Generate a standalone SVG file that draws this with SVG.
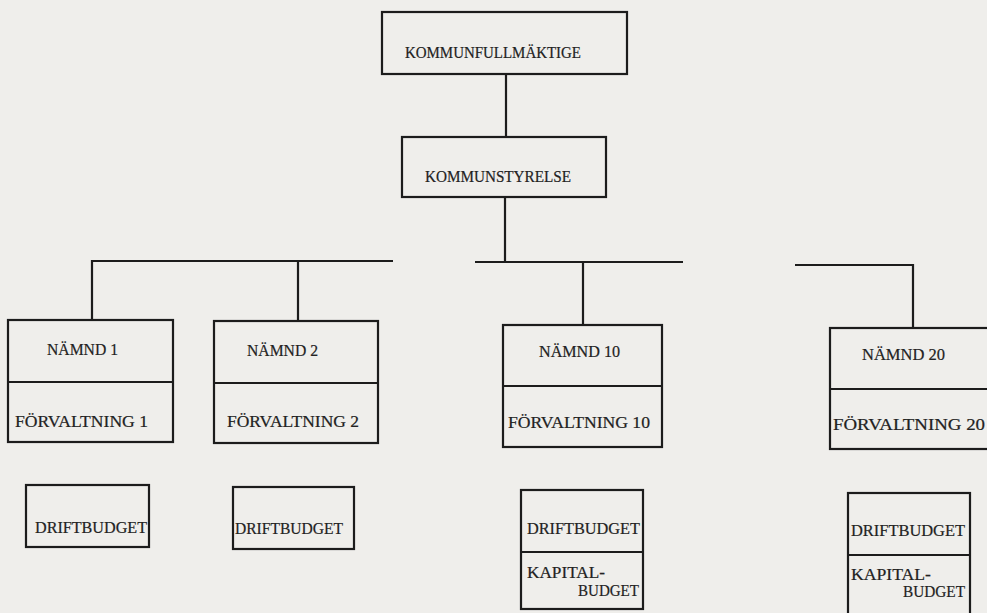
<svg xmlns="http://www.w3.org/2000/svg" width="987" height="613" viewBox="0 0 987 613">
<style>
.b{fill:none;stroke:#1c1c1c;stroke-width:2.2}
.l{fill:none;stroke:#1c1c1c;stroke-width:2.2}
text{font-family:"Liberation Serif","Times New Roman",serif;font-size:16px;fill:#222;stroke:#222;stroke-width:0.2}
</style>
<rect width="987" height="613" fill="#efeeeb"/>
<g id="connectors">
<path class="l" d="M506 74V138"/>
<path class="l" d="M505 197V262"/>
<path class="l" d="M92 320V261H393"/>
<path class="l" d="M298 261V321"/>
<path class="l" d="M475 262H683"/>
<path class="l" d="M583 262V325"/>
<path class="l" d="M795 265H913V328"/>
</g>
<g id="kommunfullmaktige">
<rect class="b" x="382" y="12" width="245" height="62"/>
<text x="405" y="58" textLength="176" lengthAdjust="spacingAndGlyphs">KOMMUNFULLMÄKTIGE</text>
</g>
<g id="kommunstyrelse">
<rect class="b" x="402" y="137" width="204" height="60"/>
<text x="425" y="182" textLength="146" lengthAdjust="spacingAndGlyphs">KOMMUNSTYRELSE</text>
</g>
<g id="namnd1">
<rect class="b" x="8" y="320" width="165" height="122"/>
<path class="l" d="M8 382H173"/>
<text x="47" y="355" textLength="71" lengthAdjust="spacingAndGlyphs">NÄMND 1</text>
<text x="15" y="427" textLength="133" lengthAdjust="spacingAndGlyphs">FÖRVALTNING 1</text>
</g>
<g id="namnd2">
<rect class="b" x="214" y="321" width="164" height="122"/>
<path class="l" d="M214 383H378"/>
<text x="247" y="356" textLength="71" lengthAdjust="spacingAndGlyphs">NÄMND 2</text>
<text x="227" y="427" textLength="132" lengthAdjust="spacingAndGlyphs">FÖRVALTNING 2</text>
</g>
<g id="namnd10">
<rect class="b" x="503" y="325" width="159" height="122"/>
<path class="l" d="M503 386H662"/>
<text x="539" y="357" textLength="81" lengthAdjust="spacingAndGlyphs">NÄMND 10</text>
<text x="508" y="428" textLength="142" lengthAdjust="spacingAndGlyphs">FÖRVALTNING 10</text>
</g>
<g id="namnd20">
<rect class="b" x="830" y="328" width="162" height="121"/>
<path class="l" d="M830 389H992"/>
<text x="862" y="360" textLength="83" lengthAdjust="spacingAndGlyphs">NÄMND 20</text>
<text x="833" y="430" textLength="152" lengthAdjust="spacingAndGlyphs">FÖRVALTNING 20</text>
</g>
<g id="driftbudget1">
<rect class="b" x="26" y="485" width="123" height="62"/>
<text x="35" y="533" textLength="112" lengthAdjust="spacingAndGlyphs">DRIFTBUDGET</text>
</g>
<g id="driftbudget2">
<rect class="b" x="233" y="487" width="121" height="62"/>
<text x="235" y="534" textLength="108" lengthAdjust="spacingAndGlyphs">DRIFTBUDGET</text>
</g>
<g id="budget10">
<rect class="b" x="521" y="490" width="122" height="119"/>
<path class="l" d="M521 552H643"/>
<text x="527" y="534" textLength="113" lengthAdjust="spacingAndGlyphs">DRIFTBUDGET</text>
<text x="527" y="578" textLength="78" lengthAdjust="spacingAndGlyphs">KAPITAL-</text>
<text x="578" y="596" textLength="61" lengthAdjust="spacingAndGlyphs">BUDGET</text>
</g>
<g id="budget20">
<rect class="b" x="848" y="493" width="122" height="125"/>
<path class="l" d="M848 555H970"/>
<text x="851" y="536" textLength="114" lengthAdjust="spacingAndGlyphs">DRIFTBUDGET</text>
<text x="851" y="580" textLength="80" lengthAdjust="spacingAndGlyphs">KAPITAL-</text>
<text x="903" y="597" textLength="62" lengthAdjust="spacingAndGlyphs">BUDGET</text>
</g>
</svg>
